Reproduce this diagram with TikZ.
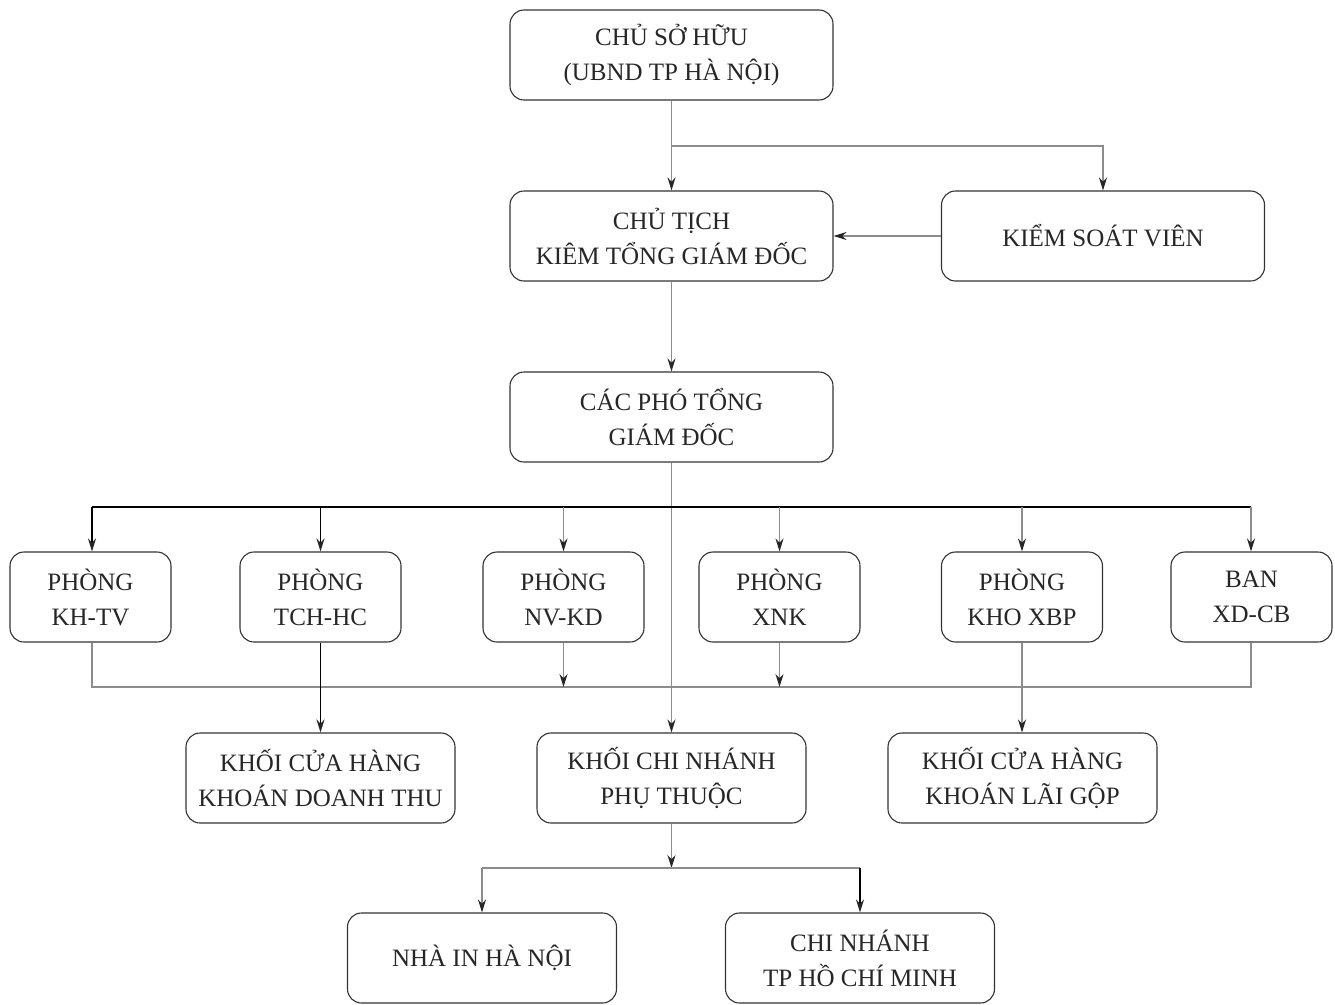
\documentclass[tikz,border=0pt]{standalone}
\usepackage{fontspec}
\setmainfont{Liberation Serif}
\usetikzlibrary{arrows.meta}
\definecolor{linegray}{gray}{0.55}
\definecolor{txtgray}{gray}{0.15}
\tikzset{
  box/.style={draw=black!80, line width=1.1pt, rounded corners=14pt, align=center,
    inner sep=0pt, font=\fontsize{25}{35}\selectfont, text=txtgray},
  bigbox/.style={box, minimum width=323pt, minimum height=90pt},
  smallbox/.style={box, minimum width=161pt, minimum height=90pt},
  midbox/.style={box, minimum width=269pt, minimum height=90pt},
  conn/.style={draw=linegray, line width=1.2pt},
  darkconn/.style={draw=black, line width=1.6pt},
  tip/.style={-{Stealth[length=13pt,width=8pt,color=black!85]}}
}
\begin{document}
\begin{tikzpicture}[x=1pt,y=-1pt]
\useasboundingbox (0,0) rectangle (1335,1004);
% nodes
\node[bigbox] (owner) at (671.5,55) {CHỦ SỞ HỮU\\(UBND TP HÀ NỘI)};
\node[bigbox] (chair) at (671.5,236) {CHỦ TỊCH\\KIÊM TỔNG GIÁM ĐỐC};
\node[bigbox] (ksv) at (1103,236) {KIỂM SOÁT VIÊN};
\node[bigbox] (vice) at (671.5,417) {CÁC PHÓ TỔNG\\GIÁM ĐỐC};
\node[smallbox] (p1) at (90.5,597) {PHÒNG\\KH-TV};
\node[smallbox] (p2) at (320.5,597) {PHÒNG\\TCH-HC};
\node[smallbox] (p3) at (563.5,597) {PHÒNG\\NV-KD};
\node[smallbox] (p4) at (779.5,597) {PHÒNG\\XNK};
\node[smallbox] (p5) at (1022,597) {PHÒNG\\KHO XBP};
\node[smallbox] (p6) at (1251.5,597) {BAN\\XD-CB};
\node[midbox] (k1) at (320.5,778) {KHỐI CỬA HÀNG\\KHOÁN DOANH THU};
\node[midbox] (k2) at (671.5,778) {KHỐI CHI NHÁNH\\PHỤ THUỘC};
\node[midbox] (k3) at (1022.5,778) {KHỐI CỬA HÀNG\\KHOÁN LÃI GỘP};
\node[midbox] (b1) at (482,958) {NHÀ IN HÀ NỘI};
\node[midbox] (b2) at (860,958) {CHI NHÁNH\\TP HỒ CHÍ MINH};
% coordinates
\coordinate (j1) at (671.5,146);
\coordinate (j2) at (1103,146);
\coordinate (busL) at (92,507);
\coordinate (busR) at (1251,507);
\coordinate (lowL) at (92,687);
\coordinate (lowR) at (1251,687);
\coordinate (m3) at (563.5,687);
\coordinate (m4) at (779.5,687);
\coordinate (bj) at (671.5,868);
\coordinate (bjL) at (482,868);
\coordinate (bjR) at (860,868);
% connectors top
\draw[conn,tip] (owner.south) -- (chair.north);
\draw[conn,tip] (j1) -- (j2) -- (ksv.north);
\draw[conn,tip] (ksv.west) -- (chair.east);
\draw[conn,tip] (chair.south) -- (vice.north);
\draw[conn,tip] (vice.south) -- (k2.north);
% upper bus
\draw[darkconn] (busL) -- (busR);
\draw[darkconn,tip] (busL) -- (p1.north -| busL);
\draw[darkconn,tip] (p2.north |- busL) -- (p2.north);
\draw[conn,tip] (p3.north |- busL) -- (p3.north);
\draw[conn,tip] (p4.north |- busL) -- (p4.north);
\draw[conn,tip] (p5.north |- busL) -- (p5.north);
\draw[conn,tip] (busR) -- (p6.north -| busR);
% lower bus
\draw[conn] (p1.south -| lowL) -- (lowL) -- (lowR) -- (p6.south -| lowR);
\draw[conn,tip] (p3.south) -- (m3);
\draw[conn,tip] (p4.south) -- (m4);
\draw[darkconn,tip] (p2.south) -- (k1.north);
\draw[conn,tip] (p5.south) -- (k3.north -| p5.south);
% bottom
\draw[conn,tip] (k2.south) -- (bj);
\draw[conn] (bjL) -- (bjR);
\draw[conn,tip] (bjL) -- (b1.north);
\draw[darkconn,tip] (bjR) -- (b2.north);
\end{tikzpicture}
\end{document}
